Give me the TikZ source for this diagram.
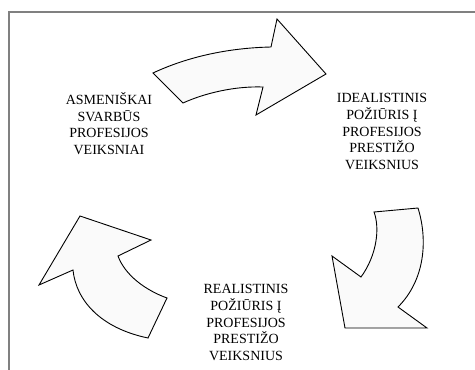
\documentclass[tikz,border=0pt]{standalone}
\usepackage{fontspec}
\setmainfont{Liberation Serif}
\tikzset{
  factor/.style={align=center, inner sep=0pt, font=\fontsize{14}{16.6}\selectfont},
  cyclearrow/.style={draw=black, line width=0.9pt, fill=black!2, line join=miter},
  frameline/.style={draw=black!50, line width=1.3pt}
}
\begin{document}
\begin{tikzpicture}[x=1pt, y=-1pt]
  \useasboundingbox (0,0) rectangle (475,370);
  % Frame
  \draw[frameline] (475,12) -- (9,12) -- (9,370);
  % Nodes
  \node (personal) [factor] at (109,123.5) {ASMENIŠKAI\\SVARBŪS\\PROFESIJOS\\VEIKSNIAI};
  \node (ideal) [factor] at (382,131.5) {IDEALISTINIS\\POŽIŪRIS Į\\PROFESIJOS\\PRESTIŽO\\VEIKSNIUS};
  \node (real) [factor] at (246,322.5) {REALISTINIS\\POŽIŪRIS Į\\PROFESIJOS\\PRESTIŽO\\VEIKSNIUS};
  % Arrow
  \draw[cyclearrow] (153,73) .. controls (185,58) and (225,48) .. (271,47)
    -- (277,19) -- (326,74) -- (256,115) -- (263,87)
    .. controls (235,86) and (205,93) .. (183,103) -- cycle;
  \draw[cyclearrow] (418,208) .. controls (428,240) and (425,280) .. (398,307)
    -- (427,328) -- (345,328) -- (332,256) -- (361,277)
    .. controls (377,255) and (380,228) .. (374,212) -- cycle;
  \draw[cyclearrow] (148,338) .. controls (100,328) and (76,300) .. (73,270)
    -- (39,285) -- (80,216) -- (151,240) -- (118,256)
    .. controls (125,275) and (145,290) .. (167,298) -- cycle;
\end{tikzpicture}
\end{document}
